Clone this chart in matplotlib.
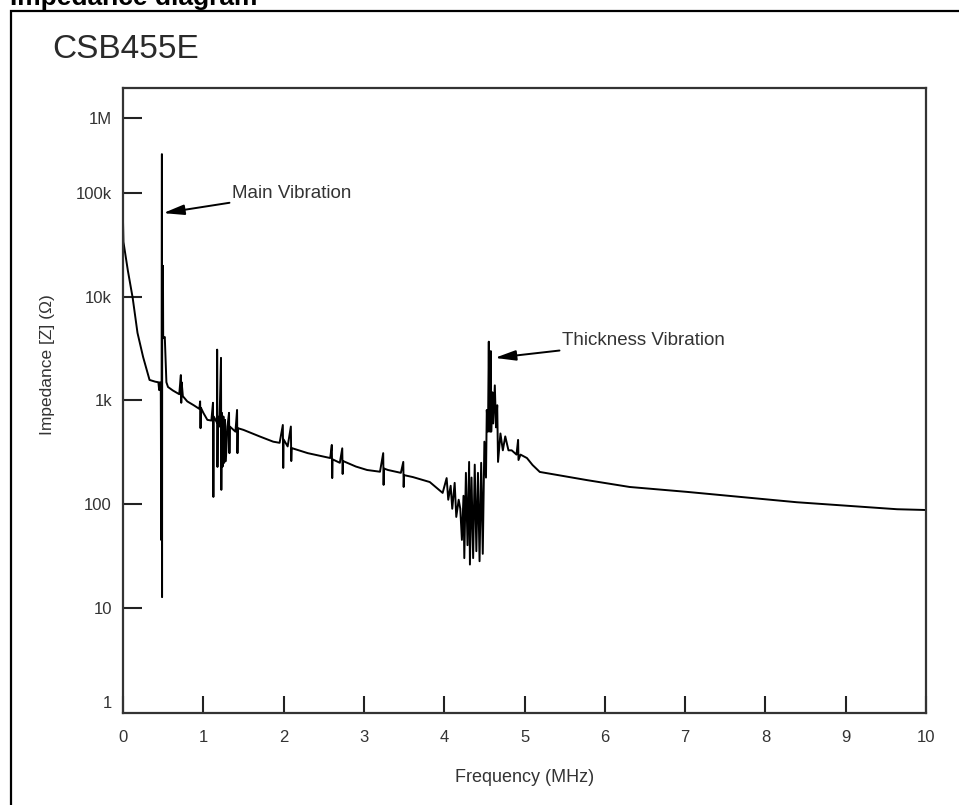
import matplotlib
matplotlib.use("Agg")
import matplotlib.pyplot as plt
from matplotlib.patches import Rectangle

plt.rcParams['font.family'] = ['Liberation Sans', 'DejaVu Sans']

# impedance curve, frequency in MHz, |Z| in ohm
freq = [0.000, 0.005, 0.060, 0.120, 0.180, 0.250, 0.330, 0.400, 0.440, 0.450, 0.460,
        0.470, 0.472, 0.474, 0.476, 0.478, 0.480, 0.484, 0.486, 0.488, 0.490, 0.492,
        0.494, 0.497, 0.500, 0.520, 0.540, 0.560, 0.620, 0.700, 0.720, 0.725, 0.730,
        0.745, 0.800, 0.880, 0.950, 0.960, 0.965, 0.970, 1.000, 1.050, 1.100, 1.120,
        1.125, 1.130, 1.170, 1.172, 1.176, 1.180, 1.200, 1.220, 1.224, 1.230, 1.240,
        1.250, 1.260, 1.270, 1.280, 1.300, 1.320, 1.325, 1.330, 1.400, 1.420, 1.425,
        1.430, 1.500, 1.700, 1.870, 1.950, 1.990, 1.995, 2.000, 2.050, 2.090, 2.095,
        2.100, 2.300, 2.580, 2.600, 2.605, 2.610, 2.700, 2.730, 2.735, 2.740, 2.900,
        3.040, 3.200, 3.240, 3.245, 3.250, 3.300, 3.460, 3.490, 3.495, 3.500, 3.610,
        3.820, 3.980, 4.030, 4.050, 4.080, 4.100, 4.130, 4.150, 4.180, 4.200, 4.220,
        4.240, 4.250, 4.270, 4.290, 4.310, 4.320, 4.340, 4.360, 4.380, 4.400, 4.420,
        4.440, 4.460, 4.480, 4.500, 4.520, 4.530, 4.545, 4.555, 4.560, 4.570, 4.580,
        4.585, 4.600, 4.610, 4.620, 4.630, 4.645, 4.660, 4.670, 4.700, 4.730, 4.760,
        4.800, 4.840, 4.900, 4.920, 4.925, 4.950, 5.030, 5.100, 5.190, 5.780, 6.310,
        7.020, 8.390, 9.640, 10.000]
imp = [52000, 34000, 18000, 9800, 4500, 2630, 1580, 1520, 1500, 1260, 1500,
       1300, 430, 45, 430, 60, 1400, 240000, 12.6, 20000, 4100, 18000,
       5000, 20000, 4000, 4100, 1500, 1350, 1250, 1150, 1760, 950, 1500,
       1100, 980, 900, 830, 980, 540, 850, 760, 650, 640, 950,
       117, 700, 610, 3100, 228, 700, 560, 2580, 137, 760, 230,
       700, 250, 650, 260, 560, 760, 310, 560, 500, 810, 310,
       540, 520, 450, 400, 390, 580, 223, 420, 360, 560, 260,
       347, 310, 278, 372, 178, 270, 250, 345, 195, 260, 230,
       213, 205, 310, 153, 220, 213, 200, 255, 146, 190, 182,
       163, 128, 178, 110, 150, 90, 160, 75, 110, 90, 45,
       120, 30, 200, 40, 255, 26, 180, 30, 240, 35, 200,
       28, 250, 33, 400, 180, 810, 500, 3700, 1000, 500, 3000,
       500, 1200, 600, 900, 1400, 550, 900, 255, 480, 330, 450,
       330, 330, 300, 416, 266, 300, 278, 238, 204, 170, 146,
       131, 104, 89, 87.5]

xticks = list(range(11))
ytick_vals = [1.23, 10, 100, 1000, 1e4, 1e5, 5.36e5]
ytick_labels = ["1", "10", "100", "1k", "10k", "100k", "1M"]

txt = "#333333"

fig = plt.figure(figsize=(9.59, 8.05), dpi=100)
ax = fig.add_axes([0.1283, 0.1143, 0.8373, 0.7764])

ax.plot(freq, imp, color="black", lw=1.4)

ax.set_yscale("log")
ax.set_xlim(0, 10)
ax.set_ylim(0.957, 1.045e6)
ax.set_xticks(xticks)
ax.set_yticks(ytick_vals)
ax.set_yticklabels(ytick_labels)
ax.minorticks_off()
ax.tick_params(axis="x", direction="in", length=12, width=1.5, pad=12,
               labelsize=12, labelcolor=txt, color="#222222")
ax.tick_params(axis="y", direction="in", length=14, width=1.5, pad=8,
               labelsize=12, labelcolor=txt, color="#222222")
ax.yaxis.get_major_ticks()[0].tick1line.set_visible(False)
for s in ax.spines.values():
    s.set_linewidth(1.6)
    s.set_color("#333333")

fig.text(525 / 959, 1 - 777 / 805, "Frequency (MHz)", ha="center", va="center",
         fontsize=13, color=txt)
fig.text(48 / 959, 1 - 365 / 805, "Impedance [Z] (\u03a9)", ha="center", va="center",
         rotation=90, fontsize=12.5, color=txt)
fig.text(52 / 959, 1 - 50 / 805, "CSB455E", ha="left", va="center",
         fontsize=24, color="#2a2a2a")

ax.annotate("Main Vibration", xy=(0.50, 64600), xytext=(1.36, 101000),
            va="center", ha="left", fontsize=13.5, color=txt,
            arrowprops=dict(arrowstyle="-|>,head_length=0.9,head_width=0.22",
                            color="black", lw=1.4, shrinkA=0, shrinkB=0,
                            mutation_scale=14))
ax.annotate("Thickness Vibration", xy=(4.63, 2580), xytext=(5.47, 3760),
            va="center", ha="left", fontsize=13.5, color=txt,
            arrowprops=dict(arrowstyle="-|>,head_length=0.9,head_width=0.22",
                            color="black", lw=1.4, shrinkA=0, shrinkB=0,
                            mutation_scale=14))

# outer box of the datasheet page and the clipped heading above it
fig.add_artist(Rectangle((11 / 959, -0.1), 1.2, 1.1 - 11 / 805, transform=fig.transFigure,
                         fill=False, lw=1.6, color="black", clip_on=False))
fig.text(10 / 959, 1 - 5 / 805, "Impedance diagram", ha="left", va="baseline",
         fontsize=19, weight="bold", color="black")

fig.savefig("out.png", dpi=100)
